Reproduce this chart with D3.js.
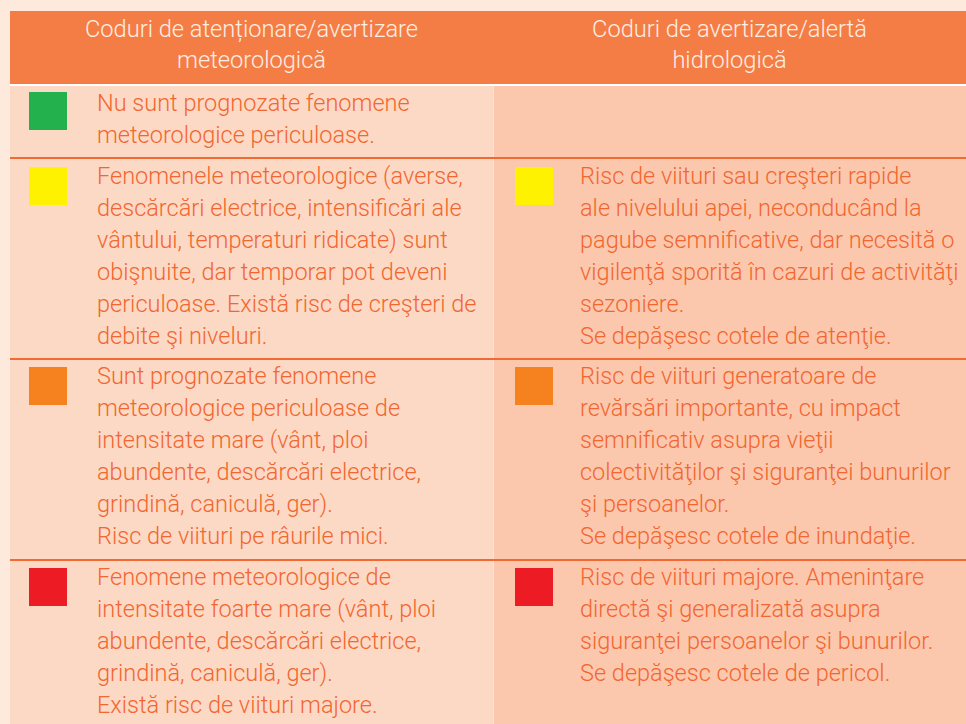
<!DOCTYPE html>
<html><head><meta charset="utf-8">
<script src="https://cdn.jsdelivr.net/npm/d3@7"></script>
<style>html,body{margin:0;padding:0;background:#fdeadc;}svg{display:block;}</style>
</head><body><div id="c"></div>
<script>
const headers = [["Coduri de atenționare/avertizare","meteorologică"],["Coduri de avertizare/alertă","hidrologică"]];
const levels = ["verde","galben","portocaliu","roșu"];
const levelColors = ["#22b14c","#fff200","#f5821f","#ed1c24"];
const meteoText = [
 ["Nu sunt prognozate fenomene","meteorologice periculoase."],
 ["Fenomenele meteorologice (averse,","descărcări electrice, intensificări ale","vântului, temperaturi ridicate) sunt","obişnuite, dar temporar pot deveni","periculoase. Există risc de creşteri de","debite şi niveluri."],
 ["Sunt prognozate fenomene","meteorologice periculoase de","intensitate mare (vânt, ploi","abundente, descărcări electrice,","grindină, caniculă, ger).","Risc de viituri pe râurile mici."],
 ["Fenomene meteorologice de","intensitate foarte mare (vânt, ploi","abundente, descărcări electrice,","grindină, caniculă, ger).","Există risc de viituri majore."]
];
const hydroText = [
 [],
 ["Risc de viituri sau creşteri rapide","ale nivelului apei, neconducând la","pagube semnificative, dar necesită o","vigilenţă sporită în cazuri de activităţi","sezoniere.","Se depăşesc cotele de atenţie."],
 ["Risc de viituri generatoare de","revărsări importante, cu impact","semnificativ asupra vieţii","colectivităţilor şi siguranţei bunurilor","şi persoanelor.","Se depăşesc cotele de inundaţie."],
 ["Risc de viituri majore. Ameninţare","directă şi generalizată asupra","siguranţei persoanelor şi bunurilor.","Se depăşesc cotele de pericol."]
];
// row boundaries (pixel layout of the table)
const rowTops = [86,159,360,561];
const rowBottoms = [157,358,559,724];

const W=966,H=724;
const svg=d3.select("#c").append("svg").attr("width",W).attr("height",H);
svg.append("rect").attr("width",W).attr("height",H).attr("fill","#fdeadc");

const x = d3.scaleOrdinal().domain([0,1]).range([10,493]);
const colW = [483,473];
const font = "Roboto, 'Noto Sans', sans-serif";
const squeeze = 0.98;
const headSqueeze = 0.985;
const lineH = 32;

// header
svg.append("rect").attr("x",10).attr("y",11).attr("width",W-10).attr("height",73).attr("fill","#f47d45");
svg.append("rect").attr("x",10).attr("y",84).attr("width",W-10).attr("height",2).attr("fill","#ffffff");
headers.forEach((h,i)=>{
  const cx = x(i)+colW[i]/2;
  const g = svg.append("g").attr("transform",`translate(${cx},0) scale(${headSqueeze},1)`);
  g.selectAll("text").data(h).join("text")
    .attr("x",0).attr("y",(d,j)=>37+j*31)
    .attr("text-anchor","middle").attr("font-family",font).attr("font-weight",300)
    .attr("font-size",24).attr("fill","#fdeee4").text(d=>d);
});

// body rows
levels.forEach((lv,r)=>{
  const top=rowTops[r], bot=rowBottoms[r];
  svg.append("rect").attr("x",10).attr("y",top).attr("width",483).attr("height",bot-top).attr("fill","#fcd9c4");
  svg.append("rect").attr("x",493).attr("y",top).attr("width",W-493).attr("height",bot-top).attr("fill","#fbc8ad");
  svg.append("rect").attr("x",493).attr("y",top).attr("width",1).attr("height",bot-top).attr("fill","#fde2d3");
  if(r<levels.length-1){
    svg.append("rect").attr("x",10).attr("y",bot).attr("width",W-10).attr("height",2).attr("fill","#f26a33");
  }
  const cols=[meteoText[r],hydroText[r]];
  const sqX=[29,515], txX=[97,580];
  cols.forEach((lines,c)=>{
    if(!lines.length) return;
    const base = top+25 - (r>=2?1:0);
    svg.append("rect").attr("x",sqX[c]).attr("y",base-17 - (r===0?2:0)).attr("width",38).attr("height",38).attr("fill",levelColors[r]);
    const g=svg.append("g").attr("transform",`translate(${txX[c]},0) scale(${squeeze},1)`);
    g.selectAll("text").data(lines).join("text")
      .attr("x",0).attr("y",(d,j)=>base+j*lineH)
      .attr("font-family",font).attr("font-weight",300).attr("font-size",24)
      .attr("fill","#f26631").text(d=>d);
  });
});
</script></body></html>
